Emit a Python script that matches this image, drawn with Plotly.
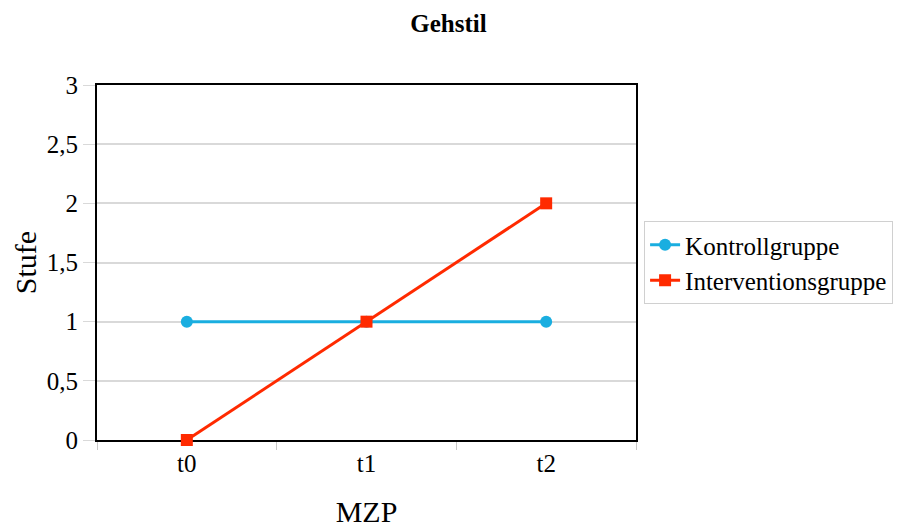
import plotly.graph_objects as go

categories = ["t0", "t1", "t2"]
kontroll = [1, 1, 1]
intervention = [0, 1, 2]
y_ticks = [0, 0.5, 1, 1.5, 2, 2.5, 3]
y_ticklabels = ["0", "0,5", "1", "1,5", "2", "2,5", "3"]

font = "Liberation Serif, Times New Roman, serif"

fig = go.Figure()
fig.add_trace(go.Scatter(
    x=categories, y=kontroll, name="Kontrollgruppe", mode="lines+markers",
    line=dict(color="#1aaee0", width=3),
    marker=dict(symbol="circle", size=12, color="#1aaee0"),
    cliponaxis=False,
))
fig.add_trace(go.Scatter(
    x=categories, y=intervention, name="Interventionsgruppe", mode="lines+markers",
    line=dict(color="#ff2a00", width=3),
    marker=dict(symbol="square", size=12, color="#ff2a00"),
    cliponaxis=False,
))

fig.update_layout(
    width=897, height=528,
    margin=dict(l=97, r=261, t=85, b=88, autoexpand=False),
    paper_bgcolor="white", plot_bgcolor="white",
    font=dict(family=font, size=25, color="black"),
    title=dict(text="<b>Gehstil</b>", x=0.5, xref="container", xanchor="center",
               y=1 - 23 / 528, yref="container", yanchor="middle", font=dict(size=25)),
    showlegend=True,
    legend=dict(x=1.015, xanchor="left", y=0.5, yanchor="middle",
                bordercolor="#d0d0d0", borderwidth=1, bgcolor="white",
                font=dict(size=25), tracegroupgap=0, itemwidth=30),
    xaxis=dict(
        type="category", range=[-0.5, 2.5],
        tickson="boundaries", ticks="outside", ticklen=8, tickcolor="#c8c8c8",
        showline=True, linecolor="black", linewidth=2, mirror=True,
        showgrid=False, zeroline=False, layer="below traces",
        title=dict(text="MZP", standoff=31),
        tickfont=dict(size=25),
    ),
    yaxis=dict(
        range=[0, 3], tickvals=y_ticks, ticktext=y_ticklabels,
        ticks="outside", ticklen=12, tickcolor="#d9d9d9",
        showgrid=True, gridcolor="#d9d9d9", gridwidth=1.5,
        showline=True, linecolor="black", linewidth=2, mirror=True,
        zeroline=False, layer="below traces",
        title=dict(text="Stufe", standoff=1),
        tickfont=dict(size=25),
    ),
)

fig.write_html("out.html")
